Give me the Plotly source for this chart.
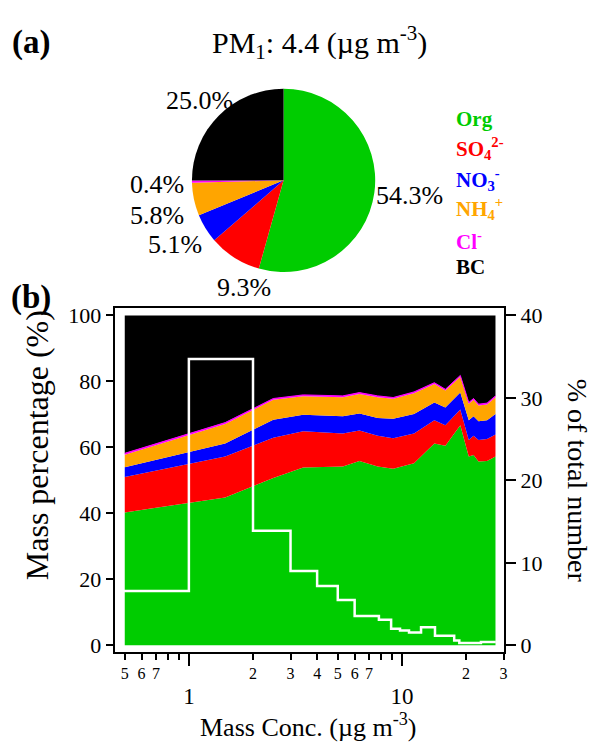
import plotly.graph_objects as go
import numpy as np

# ---------------- data ----------------
species = ["Org", "SO4", "NO3", "NH4", "Cl", "BC"]
species_labels = ["Org", "SO<sub>4</sub><sup>2-</sup>", "NO<sub>3</sub><sup>-</sup>",
                  "NH<sub>4</sub><sup>+</sup>", "Cl<sup>-</sup>", "BC"]
colors = ["#00CC00", "#FF0000", "#0000FF", "#FFA500", "#FF00FF", "#000000"]
pie_values = [54.3, 9.3, 5.1, 5.8, 0.4, 25.0]
pm1_total = 4.4

mass_conc = [0.5, 1.48, 2.49, 3.44, 5.28, 6.32, 7.7, 9.1, 11.4, 14.2, 16.0, 18.8, 20.6, 21.7, 22.9, 25.1, 27.5]
org = [40.3, 44.8, 50.7, 53.9, 54.2, 55.9, 54.2, 53.5, 55.2, 61.2, 60.5, 66.7, 57.2, 57.7, 55.7, 55.9, 57.2]
so4 = [10.7, 12.4, 12.2, 11.0, 10.0, 9.2, 9.3, 9.3, 9.0, 7.0, 6.2, 4.8, 5.0, 5.8, 6.5, 6.6, 6.7]
no3 = [3.0, 4.0, 5.5, 5.0, 5.2, 5.2, 5.4, 5.9, 5.9, 5.4, 5.4, 5.1, 6.0, 5.9, 5.7, 5.7, 6.2]
nh4 = [3.8, 5.9, 6.0, 5.6, 5.8, 5.9, 6.3, 6.0, 6.3, 5.6, 5.1, 4.8, 5.0, 5.0, 4.8, 4.8, 5.1]
cl = [0.4, 0.4, 0.4, 0.4, 0.4, 0.4, 0.4, 0.4, 0.4, 0.4, 0.4, 0.4, 0.4, 0.4, 0.4, 0.4, 0.4]
bc = [41.8, 32.5, 25.2, 24.1, 24.4, 23.4, 24.4, 24.9, 23.2, 20.4, 22.4, 18.2, 26.4, 25.2, 26.9, 26.6, 24.4]
series = [org, so4, no3, nh4, cl, bc]

# number distribution (step), bin left edges
num_edges = [0.4, 1.0, 2.0, 3.0, 4.0, 5.0, 6.0, 7.8, 8.9, 9.8, 10.8, 12.3, 14.3, 17.6, 18.6, 23.5, 27.6]
num_frac = [6.6, 34.7, 13.9, 9.0, 7.2, 5.5, 3.55, 3.1, 2.0, 1.8, 1.55, 2.2, 1.15, 0.6, 0.3, 0.4, 0.4]

minor_small_ticks = [0.5, 0.6, 0.7, 2, 3, 4, 5, 6, 7, 20, 30]
minor_small_text = ["5", "6", "7", "2", "3", "4", "5", "6", "7", "2", "3"]
unlabeled_ticks = [0.8, 0.9, 8, 9]
major_ticks = [1, 10]
major_text = ["1", "10"]
left_ticks = [0, 20, 40, 60, 80, 100]
right_ticks = [0, 10, 20, 30, 40]

# ---------------- layout helpers ----------------
W, H = 597, 744
FONT = "Liberation Serif, Times New Roman, Times, serif"


def px(x, y):
    return x / W, 1 - y / H


fig = go.Figure()

# pie
fig.add_trace(go.Pie(
    values=pie_values, labels=species, sort=False, direction="clockwise", rotation=0,
    marker=dict(colors=colors, line=dict(width=0)), textinfo="none", hoverinfo="skip",
    showlegend=False,
    domain=dict(x=[192 / W, 378 / W], y=[1 - 271 / H, 1 - 85 / H]),
))

# stacked areas
for name, vals, col in zip(species, series, colors):
    fig.add_trace(go.Scatter(
        x=mass_conc, y=vals, stackgroup="one", mode="lines",
        line=dict(width=1 if name == "Cl" else 0, color=col),
        fillcolor=col, name=name, showlegend=False, xaxis="x", yaxis="y",
    ))

# step line (right axis)
fig.add_trace(go.Scatter(
    x=num_edges, y=num_frac, mode="lines", line=dict(shape="hv", color="white", width=2.5),
    showlegend=False, xaxis="x2", yaxis="y2",
))

xr = [np.log10(0.452), np.log10(30.3)]
xdom = [116 / W, 507 / W]
ydom = [1 - 657 / H, 1 - 308 / H]

fig.update_layout(
    width=W, height=H, margin=dict(l=0, r=0, t=0, b=0),
    paper_bgcolor="white", plot_bgcolor="white",
    font=dict(family=FONT, color="black"),
    xaxis=dict(type="log", range=xr, domain=xdom, anchor="y",
               showline=True, linecolor="black", linewidth=1.5, mirror=True,
               ticks="outside", tickvals=minor_small_ticks, ticktext=minor_small_text,
               ticklen=6, tickwidth=1.5, tickcolor="black",
               tickfont=dict(size=16, family=FONT),
               minor=dict(tickmode="array", tickvals=unlabeled_ticks, ticks="outside",
                          ticklen=6, tickwidth=1.5, tickcolor="black", showgrid=False),
               showgrid=False, zeroline=False),
    xaxis2=dict(type="log", range=xr, overlaying="x", anchor="y", side="bottom",
                showline=False, ticks="outside", tickvals=major_ticks, ticktext=major_text,
                ticklen=13, tickwidth=1.5, tickcolor="black",
                tickfont=dict(size=23, family=FONT), ticklabelstandoff=10,
                showgrid=False, zeroline=False),
    yaxis=dict(range=[-2.1, 102.1], domain=ydom, anchor="x",
               showline=True, linecolor="black", linewidth=1.5, mirror=True,
               ticks="outside", tickvals=left_ticks, ticklen=8, tickwidth=1.5, tickcolor="black",
               tickfont=dict(size=22, family=FONT), showgrid=False, zeroline=False),
    yaxis2=dict(range=[-0.84, 40.84], overlaying="y", side="right", anchor="x",
                showline=True, linecolor="black", linewidth=1.5,
                ticks="outside", tickvals=right_ticks, ticklen=10, tickwidth=1.5, tickcolor="black",
                tickfont=dict(size=22, family=FONT), showgrid=False, zeroline=False),
)

ann = []


def add_text(text, x, y, size, color="black", bold=False, xanchor="center", angle=0):
    ax, ay = px(x, y)
    t = f"<b>{text}</b>" if bold else text
    ann.append(dict(text=t, x=ax, y=ay, xref="paper", yref="paper", showarrow=False,
                    xanchor=xanchor, yanchor="middle", textangle=angle,
                    font=dict(family=FONT, size=size, color=color)))


add_text("(a)", 31, 38, 33, bold=True)
add_text("(b)", 31, 297, 33, bold=True)
add_text(f"PM<sub>1</sub>: {pm1_total} (µg m<sup>-3</sup>)", 321, 38, 30)

pie_label_pos = [(412, 193), (245, 287), (176, 243), (158, 214), (158, 182), (201, 97)]
for v, (lx, ly) in zip(pie_values, pie_label_pos):
    add_text(f"{v:.1f}%", lx, ly, 26)

legend_y = [116, 146, 177, 207, 239, 266]
for lab, col, ly in zip(species_labels, colors, legend_y):
    add_text(lab, 456, ly, 21, color=col, bold=True, xanchor="left")

add_text("Mass percentage (%)", 38, 447, 32, angle=-90)
add_text("% of total number", 580, 483, 28, angle=90)
add_text("Mass Conc. (µg m<sup>-3</sup>)", 310, 731, 26)

fig.update_layout(annotations=ann)
fig.write_html("out.html")
